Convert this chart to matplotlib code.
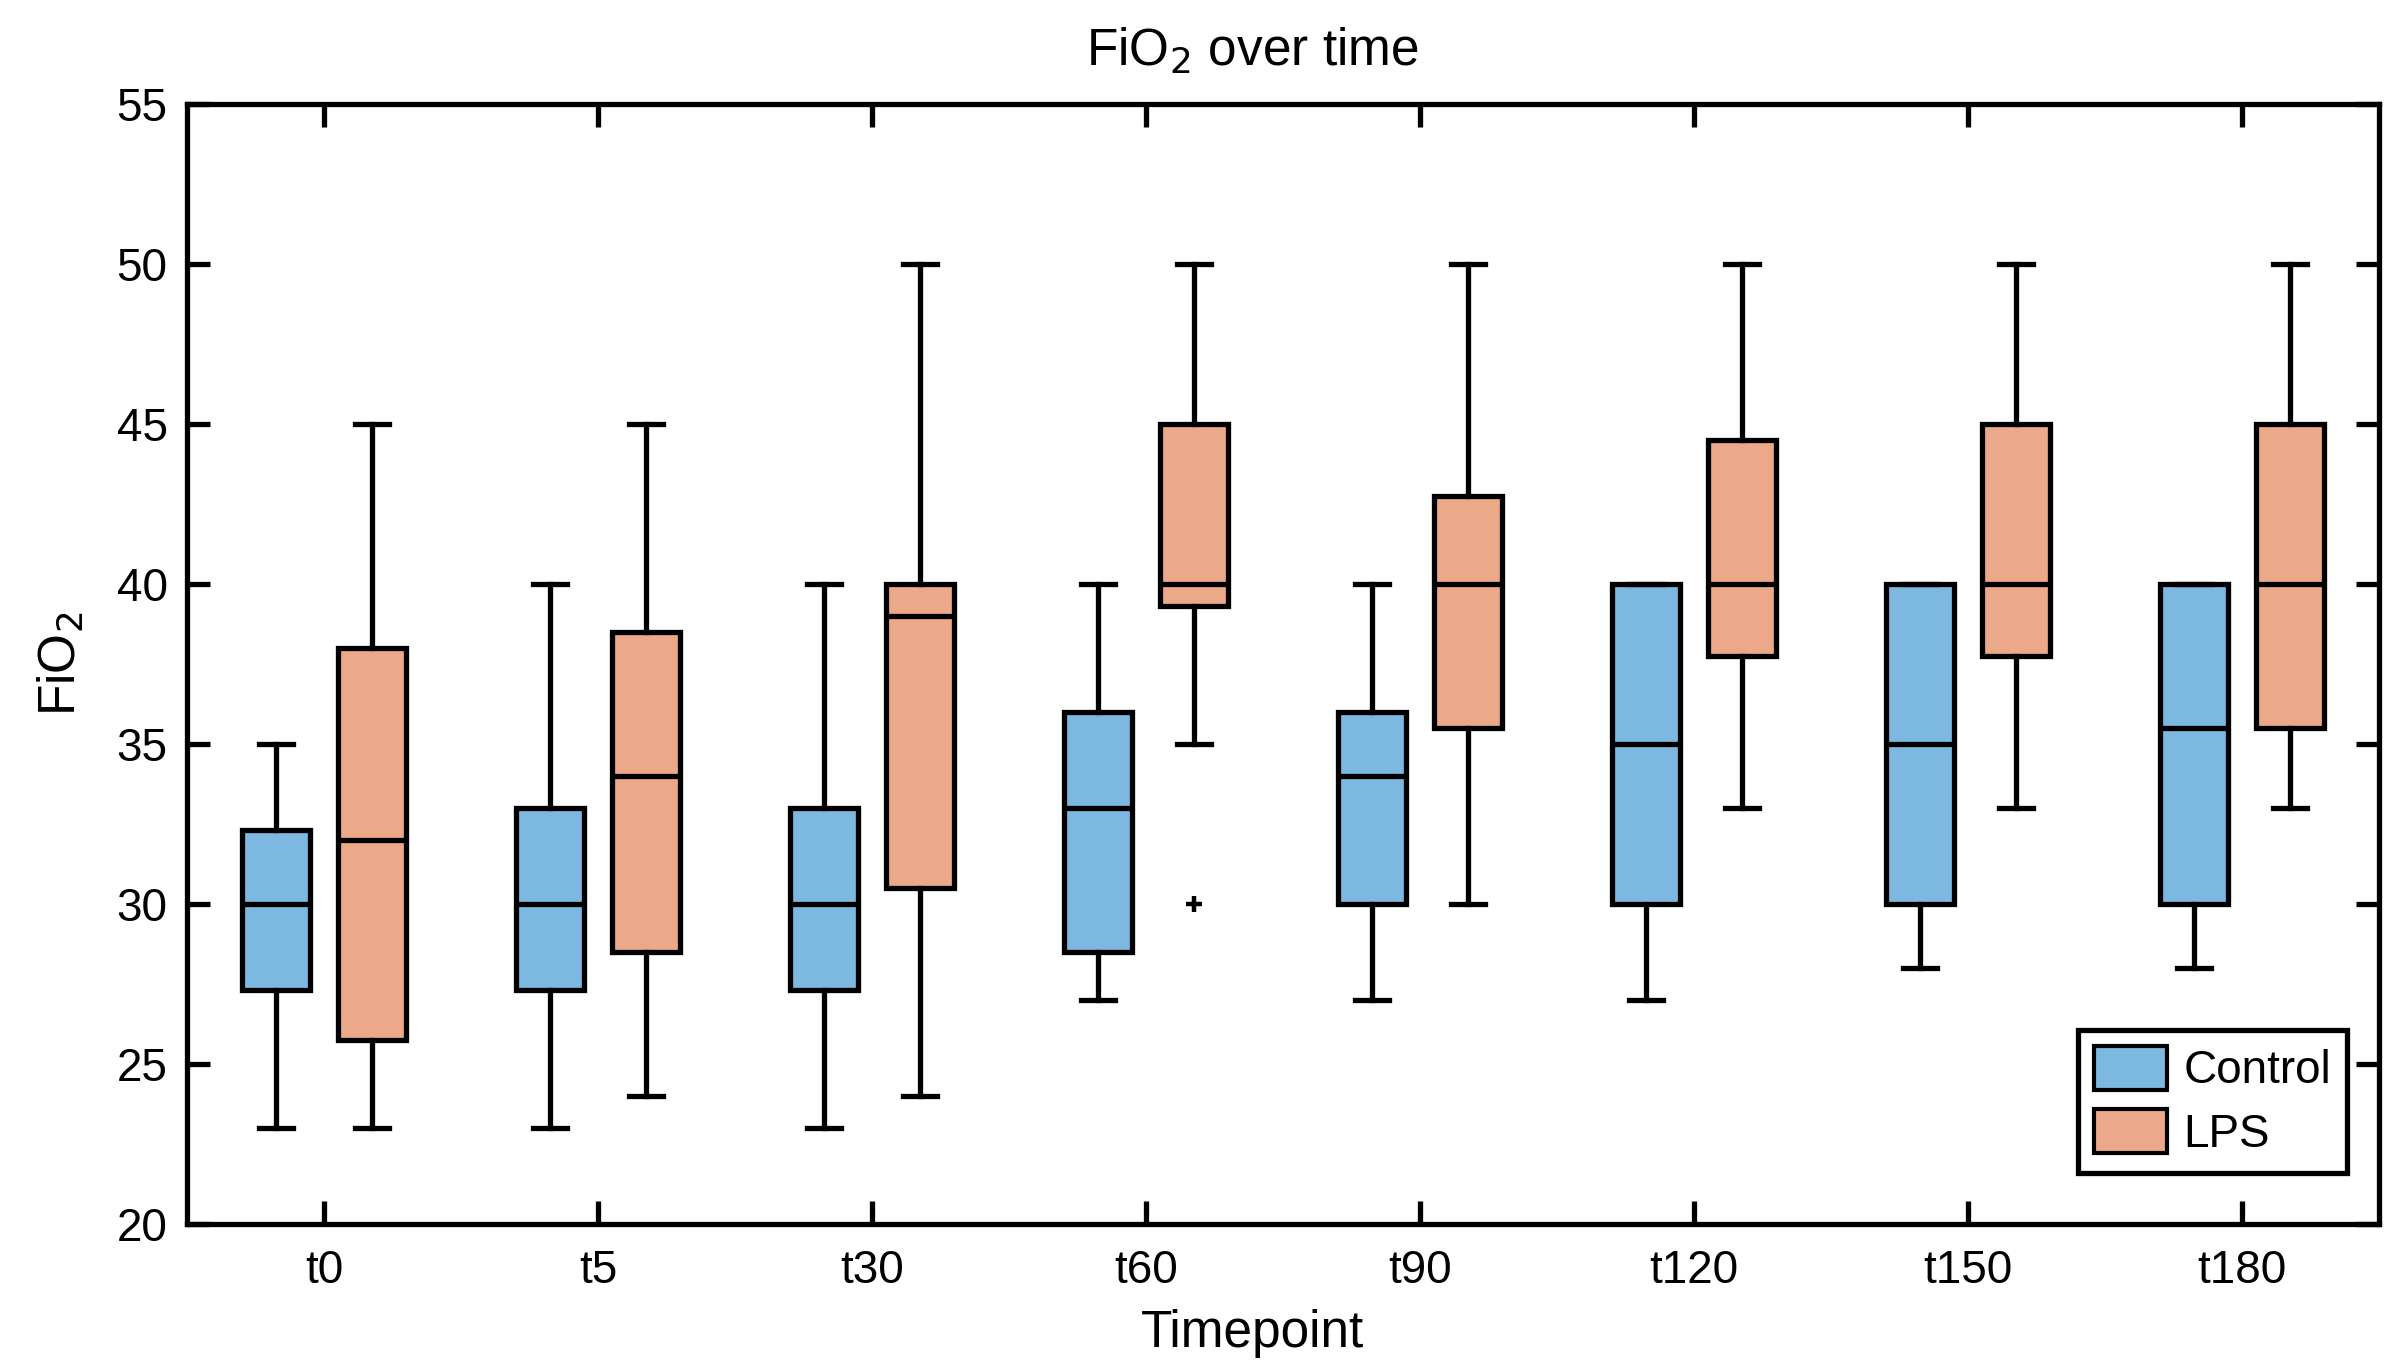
import matplotlib
matplotlib.use('Agg')
import matplotlib.pyplot as plt
from matplotlib.patches import Patch

plt.rcParams['font.family'] = ['Liberation Sans', 'DejaVu Sans']

timepoints = ['t0', 't5', 't30', 't60', 't90', 't120', 't150', 't180']

# Control group: whisker low, q1, median, q3, whisker high
ctrl_low = [23, 23, 23, 27, 27, 27, 28, 28]
ctrl_q1 = [27.3, 27.3, 27.3, 28.5, 30, 30, 30, 30]
ctrl_med = [30, 30, 30, 33, 34, 35, 35, 35.5]
ctrl_q3 = [32.3, 33, 33, 36, 36, 40, 40, 40]
ctrl_high = [35, 40, 40, 40, 40, 40, 40, 40]
ctrl_out = [[], [], [], [], [], [], [], []]

# LPS group
lps_low = [23, 24, 24, 35, 30, 33, 33, 33]
lps_q1 = [25.75, 28.5, 30.5, 39.3, 35.5, 37.75, 37.75, 35.5]
lps_med = [32, 34, 39, 40, 40, 40, 40, 40]
lps_q3 = [38, 38.5, 40, 45, 42.75, 44.5, 45, 45]
lps_high = [45, 45, 50, 50, 50, 50, 50, 50]
lps_out = [[], [], [], [30], [], [], [], []]

blue = '#7DB8E0'
orange = '#ECA98A'


def make_stats(low, q1, med, q3, high, out):
    stats = []
    for i in range(len(low)):
        stats.append({'whislo': low[i], 'q1': q1[i], 'med': med[i],
                      'q3': q3[i], 'whishi': high[i], 'fliers': out[i]})
    return stats


fig = plt.figure(figsize=(24.08, 13.67), dpi=100)
ax = fig.add_axes([0.0777, 0.1046, 0.9103, 0.8193])

pos = list(range(1, len(timepoints) + 1))
off = 0.175
lw = 3.8

for stats, shift, col in [(make_stats(ctrl_low, ctrl_q1, ctrl_med, ctrl_q3, ctrl_high, ctrl_out), -off, blue),
                          (make_stats(lps_low, lps_q1, lps_med, lps_q3, lps_high, lps_out), off, orange)]:
    ax.bxp(stats, positions=[p + shift for p in pos], widths=0.25, patch_artist=True,
           boxprops=dict(facecolor=col, edgecolor='black', linewidth=lw),
           medianprops=dict(color='black', linewidth=lw),
           whiskerprops=dict(color='black', linewidth=lw),
           capprops=dict(color='black', linewidth=lw),
           capwidths=0.125,
           flierprops=dict(marker='+', markersize=11, markeredgecolor='black', markeredgewidth=3.2),
           manage_ticks=False)

ax.set_xlim(0.5, 8.5)
ax.set_ylim(20, 55)
ax.set_xticks(pos)
ax.set_xticklabels(timepoints)
ax.set_yticks(range(20, 56, 5))
ax.tick_params(direction='in', length=16.5, width=3.8, labelsize=33, top=True, right=True)
ax.tick_params(axis='x', pad=18)
ax.tick_params(axis='y', pad=14)
for s in ax.spines.values():
    s.set_linewidth(3.8)

ax.set_xlabel('Timepoint', fontsize=37)
ax.xaxis.set_label_coords(0.486, -0.076)
ax.set_ylabel('FiO$_2$', fontsize=37, labelpad=22)
ax.set_title('FiO$_2$ over time', fontsize=37, pad=28, x=0.486)

handles = [Patch(facecolor=blue, edgecolor='black', linewidth=3, label='Control'),
           Patch(facecolor=orange, edgecolor='black', linewidth=3, label='LPS')]
leg = ax.legend(handles=handles, loc='lower right', fontsize=33, fancybox=False,
                edgecolor='black', framealpha=1, handlelength=1.6, handleheight=1.1,
                borderpad=0.35, labelspacing=0.35, handletextpad=0.35, borderaxespad=0,
                bbox_to_anchor=(0.9854, 0.0456))
leg.get_frame().set_linewidth(3.8)

fig.savefig('out.png', dpi=100)
